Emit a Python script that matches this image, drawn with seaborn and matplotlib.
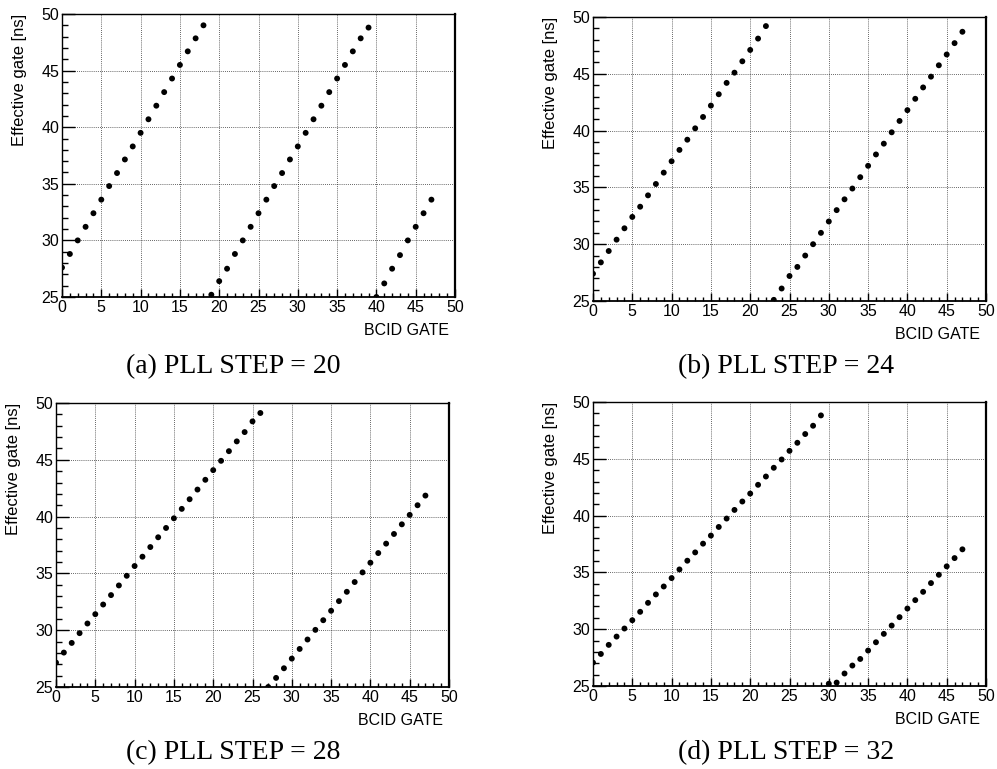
import numpy as np
import pandas as pd
import matplotlib
matplotlib.use("Agg")
import matplotlib.pyplot as plt
import seaborn as sns
from matplotlib.ticker import MultipleLocator

# ---------------- data ----------------
bcid_gate = list(range(48))

gate_step20 = [27.6, 28.8, 30.0, 31.2, 32.4, 33.6, 34.8, 35.95, 37.15, 38.3,
               39.5, 40.7, 41.9, 43.1, 44.3, 45.5, 46.7, 47.85, 49.0,
               25.2, 26.4, 27.5, 28.8, 30.0, 31.2, 32.4, 33.6, 34.8, 35.95,
               37.15, 38.3, 39.5, 40.7, 41.9, 43.1, 44.3, 45.5, 46.7, 47.85, 48.8,
               25.0, 26.2, 27.5, 28.7, 30.0, 31.2, 32.4, 33.6]

gate_step24 = [27.4, 28.4, 29.4, 30.4, 31.4, 32.4, 33.3, 34.3, 35.3, 36.3,
               37.3, 38.3, 39.2, 40.2, 41.2, 42.2, 43.2, 44.2, 45.1, 46.1,
               47.1, 48.1, 49.2,
               25.1, 26.1, 27.2, 28.0, 29.0, 30.0, 31.0, 32.0, 33.0, 33.95,
               34.9, 35.9, 36.9, 37.9, 38.85, 39.85, 40.85, 41.8, 42.8, 43.8,
               44.75, 45.75, 46.7, 47.7, 48.7]

gate_step28 = [27.15, 28.03, 28.88, 29.74, 30.59, 31.41, 32.26, 33.09, 33.94,
               34.79, 35.65, 36.47, 37.32, 38.18, 39.0, 39.85, 40.68, 41.53,
               42.38, 43.24, 44.09, 44.91, 45.76, 46.62, 47.44, 48.38, 49.12,
               25.0, 25.8, 26.65, 27.5, 28.35, 29.18, 30.03, 30.88, 31.71,
               32.56, 33.38, 34.24, 35.09, 35.94, 36.79, 37.62, 38.47, 39.32,
               40.15, 41.0, 41.85]

gate_step32 = [27.06, 27.82, 28.62, 29.35, 30.06, 30.79, 31.53, 32.32, 33.06,
               33.76, 34.5, 35.26, 36.03, 36.76, 37.53, 38.24, 39.0, 39.74,
               40.5, 41.24, 41.94, 42.71, 43.44, 44.21, 44.94, 45.7, 46.41,
               47.18, 47.91, 48.82,
               25.2, 25.3, 26.1, 26.8, 27.38, 28.12, 28.85, 29.59, 30.32,
               31.06, 31.82, 32.56, 33.29, 34.06, 34.79, 35.53, 36.26, 37.03]

captions = ["(a) PLL STEP = 20", "(b) PLL STEP = 24",
            "(c) PLL STEP = 28", "(d) PLL STEP = 32"]
x_label = "BCID GATE"
y_label = "Effective gate [ns]"
x_ticks = [0, 5, 10, 15, 20, 25, 30, 35, 40, 45, 50]
y_ticks = [25, 30, 35, 40, 45, 50]

series = [gate_step20, gate_step24, gate_step28, gate_step32]

# ---------------- styling ----------------
sns.set_theme(style="white")
plt.rcParams["font.family"] = ["Liberation Sans", "DejaVu Sans"]

W, H = 997, 769
fig = plt.figure(figsize=(W / 100, H / 100), dpi=100)
fig.patch.set_facecolor("white")

# axes rectangles in pixels: left, top, right, bottom
rects_px = [(62, 14, 455, 297), (593, 17, 986, 301),
            (56, 403, 449, 687), (593, 402, 986, 686)]
caption_pos = [(233, 373), (786, 373), (233, 759), (786, 759)]

for i, (vals, (l, t, r, b)) in enumerate(zip(series, rects_px)):
    ax = fig.add_axes([l / W, 1 - b / H, (r - l) / W, (b - t) / H])
    df = pd.DataFrame({"bcid": bcid_gate, "gate": vals})
    sns.scatterplot(data=df, x="bcid", y="gate", ax=ax, color="black",
                    s=18, edgecolor="none", linewidth=0, legend=False,
                    zorder=3)
    ax.set_xlim(0, 50)
    ax.set_ylim(25, 50)
    ax.set_xticks(x_ticks)
    ax.set_yticks(y_ticks)
    ax.xaxis.set_minor_locator(MultipleLocator(1))
    ax.yaxis.set_minor_locator(MultipleLocator(1))
    ax.tick_params(axis="x", which="major", direction="in", length=6,
                   width=1.0, color="black", labelsize=11.5, pad=2)
    ax.tick_params(axis="x", which="minor", direction="in", length=3,
                   width=1.0, color="black")
    ax.tick_params(axis="y", which="major", direction="in", length=9,
                   width=1.0, color="black", labelsize=11.5, pad=2)
    ax.tick_params(axis="y", which="minor", direction="in", length=4.5,
                   width=1.0, color="black")
    ax.tick_params(bottom=True, left=True, top=False, right=False,
                   which="both")
    ax.grid(True, which="major", linestyle=(0, (1, 1.5)), color="black",
            linewidth=0.6, alpha=0.8)
    ax.set_axisbelow(True)
    for side, sp in ax.spines.items():
        sp.set_visible(True)
        sp.set_color("black")
        sp.set_linewidth(1.0)
    ax.spines["right"].set_linewidth(1.6)
    ax.spines["bottom"].set_linewidth(1.3)
    ax.set_xlabel(x_label, fontsize=11.5, color="black",
                  ha="right", va="top")
    ax.xaxis.set_label_coords((r - 6 - l) / (r - l), -(323 - 297) / (b - t))
    ax.set_ylabel(y_label, loc="top", fontsize=12, labelpad=10,
                  color="black")
    for lab in ax.get_xticklabels() + ax.get_yticklabels():
        lab.set_color("black")

    cx, cy = caption_pos[i]
    fig.text(cx / W, 1 - cy / H, captions[i], ha="center", va="baseline",
             fontsize=20, family=["Liberation Serif", "DejaVu Serif"],
             color="black")

fig.savefig("out.png", dpi=100, facecolor="white")
